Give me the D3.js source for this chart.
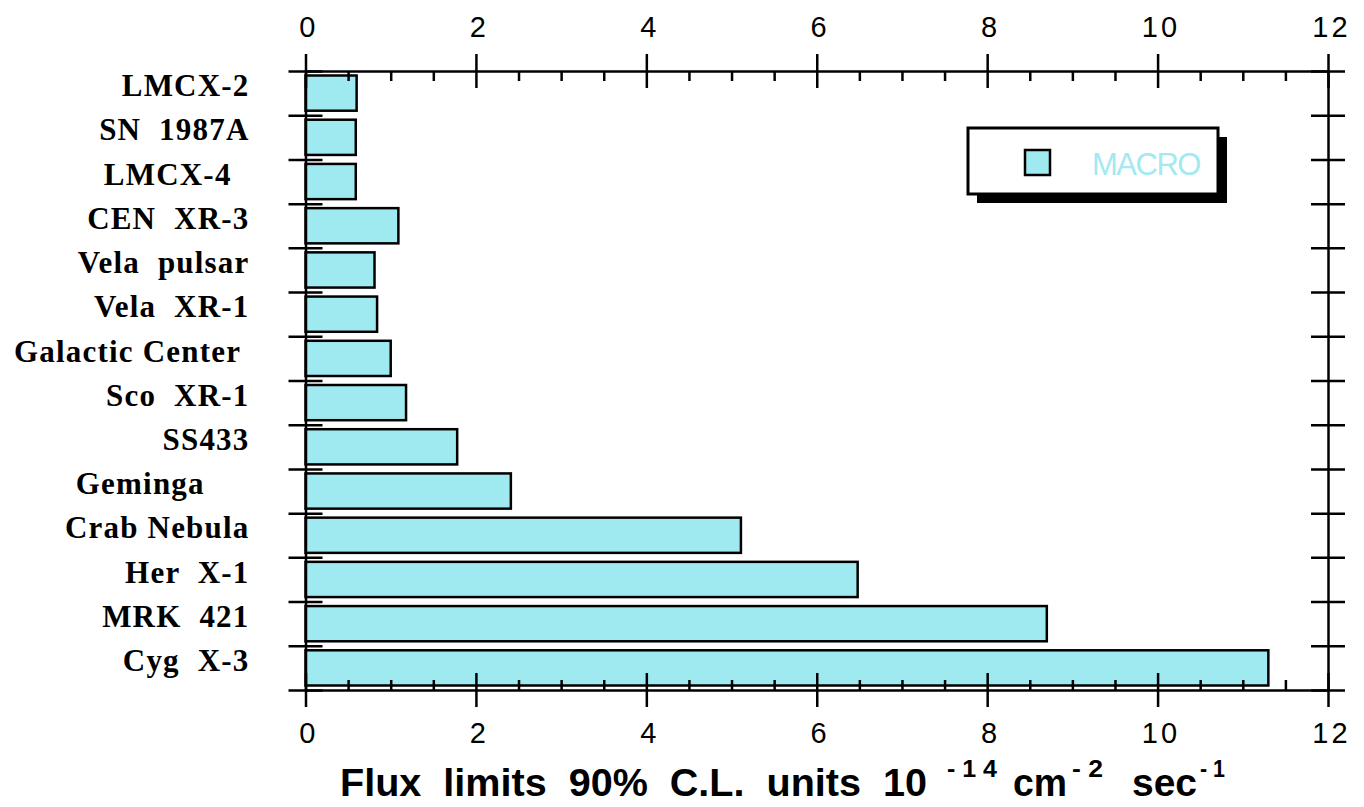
<!DOCTYPE html>
<html lang="en">
<head>
<meta charset="utf-8">
<title>Flux limits</title>
<style>
  body { margin: 0; background: #ffffff; overflow: hidden; }
  .src text { font-family: "Liberation Serif", "Times New Roman", serif; font-weight: bold; font-size: 31px; letter-spacing: 1.2px; white-space: pre; fill: #000; }
  .num text { font-family: "Liberation Sans", Arial, sans-serif; font-size: 29px; letter-spacing: 3px; fill: #000; }
  .ax path, .ax line { stroke: #000; stroke-width: 2.5px; }
  .title { font-family: "Liberation Sans", Arial, sans-serif; font-weight: bold; fill: #000; }
</style>
</head>
<body>
<div id="chart"></div>
<script src="https://cdn.jsdelivr.net/npm/d3@7"></script>
<script>

// sources, top to bottom
var sources = ["LMCX-2", "SN  1987A", "LMCX-4  ", "CEN  XR-3", "Vela  pulsar", "Vela  XR-1",
               "Galactic Center ", "Sco  XR-1", "SS433", "Geminga     ", "Crab Nebula",
               "Her  X-1", "MRK  421", "Cyg  X-3"];
// MACRO flux limits, 90% C.L., 10^-14 cm^-2 s^-1
var macro = [0.60, 0.59, 0.59, 1.09, 0.81, 0.84, 1.00, 1.18, 1.78, 2.41, 5.11, 6.48, 8.70, 11.30];

var majorTicks = [0, 2, 4, 6, 8, 10, 12];
var minorTicks = [0.5, 1, 1.5, 2.5, 3, 3.5, 4.5, 5, 5.5, 6.5, 7, 7.5, 8.5, 9, 9.5, 10.5, 11, 11.5];
var seriesName = "MACRO";

var W = 1364, H = 807;
var pLeft = 305.5, pRight = 1328, pTop = 71, pBottom = 690;

var svg = d3.select("#chart").append("svg")
    .attr("width", W)
    .attr("height", H);

var x = d3.scaleLinear().domain([0, 12]).range([pLeft, pRight]);
var y = d3.scaleBand().domain(sources).range([pTop, pBottom]);
var yEdge = d3.scaleLinear().domain([0, sources.length]).range([pTop, pBottom]);

// bars
svg.append("g").selectAll("rect")
    .data(sources)
    .enter().append("rect")
    .attr("x", x(0))
    .attr("y", function(d) { return y(d) + 4.5; })
    .attr("width", function(d, i) { return x(macro[i]) - x(0); })
    .attr("height", y.bandwidth() - 9)
    .style("fill", "#9feaf1")
    .style("stroke", "#000")
    .style("stroke-width", 2.5);

// top axis
var gTop = svg.append("g").attr("class", "ax num")
    .attr("transform", "translate(0," + pTop + ")")
    .call(d3.axisTop(x).tickValues(majorTicks).tickSize(17).tickSizeOuter(0).tickPadding(17));
gTop.selectAll(".tick line").attr("y1", 17);
svg.append("g").attr("class", "ax")
    .attr("transform", "translate(0," + pTop + ")")
    .call(d3.axisTop(x).tickValues(minorTicks).tickSize(-10).tickFormat(""))
    .select(".domain").remove();

// bottom axis
var gBot = svg.append("g").attr("class", "ax num")
    .attr("transform", "translate(0," + pBottom + ")")
    .call(d3.axisBottom(x).tickValues(majorTicks).tickSize(17).tickSizeOuter(0).tickPadding(17));
gBot.selectAll(".tick line").attr("y1", -17);
svg.append("g").attr("class", "ax")
    .attr("transform", "translate(0," + pBottom + ")")
    .call(d3.axisBottom(x).tickValues(minorTicks).tickSize(-10).tickFormat(""))
    .select(".domain").remove();

// left and right frame with category edge ticks
[pLeft, pRight].forEach(function(px) {
  var g = svg.append("g").attr("class", "ax")
      .attr("transform", "translate(" + px + ",0)")
      .call(d3.axisLeft(yEdge).tickValues(d3.range(sources.length + 1)).tickSize(17).tickSizeOuter(0).tickFormat(""));
  g.selectAll(".tick line").attr("x1", 17);
});

// source labels
var gLab = svg.append("g").attr("class", "src")
    .attr("transform", "translate(" + pLeft + ",0)")
    .call(d3.axisLeft(y).tickSize(0).tickPadding(56));
gLab.select(".domain").remove();
gLab.selectAll(".tick text").attr("dy", "0.1em").attr("font-family", null).attr("font-size", null);
svg.selectAll(".num text").attr("font-family", null).attr("font-size", null);
gTop.selectAll(".tick text").attr("dy", "0em").attr("dx", "0.1em");
gBot.selectAll(".tick text").attr("dy", "0.66em").attr("dx", "0.1em");

// legend
var lg = svg.append("g").attr("transform", "translate(968,128)");
lg.append("rect").attr("x", 9).attr("y", 9).attr("width", 250).attr("height", 66).style("fill", "#000");
lg.append("rect").attr("width", 250).attr("height", 66)
    .style("fill", "#fff").style("stroke", "#000").style("stroke-width", 3);
lg.append("rect").attr("x", 57).attr("y", 22).attr("width", 25).attr("height", 25)
    .style("fill", "#9feaf1").style("stroke", "#000").style("stroke-width", 2.5);
lg.append("text").attr("x", 124).attr("y", 47)
    .style("font-family", "'Liberation Sans', Arial, sans-serif")
    .style("font-size", "31px").style("letter-spacing", "-1.5px")
    .style("fill", "#a3e9f1")
    .text(seriesName);

// axis title
var t = svg.append("g").attr("class", "title");
t.append("text").attr("x", 340).attr("y", 796)
    .attr("textLength", 587).attr("lengthAdjust", "spacingAndGlyphs")
    .style("font-size", "38px").style("white-space", "pre")
    .text("Flux  limits  90%  C.L.  units  10");
var parts = [
  {s: "- 1 4", x: 947, sup: true, w: 50},
  {s: "cm", x: 1013, sup: false, w: 54},
  {s: "- 2", x: 1072, sup: true, w: 31},
  {s: "sec", x: 1132, sup: false, w: 65},
  {s: "- 1", x: 1200, sup: true, w: 25}
];
parts.forEach(function(p) {
  t.append("text").attr("x", p.x).attr("y", p.sup ? 777 : 796)
      .attr("textLength", p.w).attr("lengthAdjust", "spacingAndGlyphs")
      .style("font-size", p.sup ? "23px" : "38px").style("white-space", "pre")
      .text(p.s);
});

</script>
</body>
</html>
